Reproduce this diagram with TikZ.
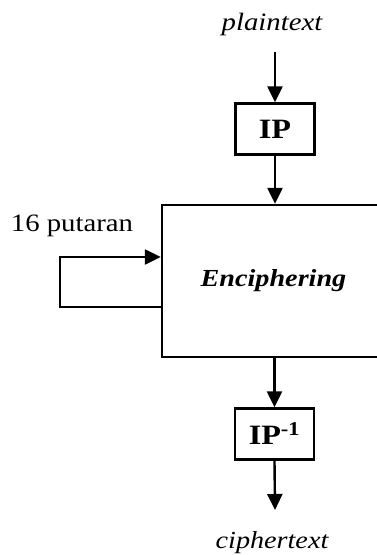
\documentclass[tikz,border=0pt]{standalone}
\usepackage{fontspec}
\setmainfont[FakeStretch=1.15]{Liberation Serif}
\usetikzlibrary{arrows.meta}
\begin{document}
\begin{tikzpicture}[x=1pt,y=-1pt,
  line width=2.4pt,
  flow/.style={-{Triangle[width=15pt,length=16pt]}},
  ipbox/.style={draw, rectangle, minimum width=79pt, minimum height=51pt, inner sep=0pt, font=\fontsize{28}{28}\selectfont\bfseries},
  lbl/.style={inner sep=0pt, font=\fontsize{25}{25}\selectfont\itshape}]
\useasboundingbox (0,0) rectangle (377,555);
\clip (0,0) rectangle (377,555);
% input and initial permutation
\node[lbl] (plain) at (272,24) {plaintext};
\coordinate (in) at (275,52);
\node[ipbox] (ip) at (275,129) {IP};
% main enciphering block (runs past the right edge)
\node[draw, rectangle, minimum width=223pt, minimum height=152pt, inner sep=0pt,
      font=\fontsize{24.5}{24.5}\selectfont\bfseries\itshape] (enc) at (273.5,281) {Enciphering};
% final permutation and output
\node[ipbox] (ipinv) at (274.5,434) {IP\textsuperscript{-1}};
\coordinate (out) at (275,510);
\node[lbl, font=\fontsize{24.5}{24.5}\selectfont\itshape] (cipher) at (272,543) {ciphertext};
% round loop
\node[inner sep=0pt, font=\fontsize{25}{25}\selectfont] (rounds) at (72,226) {16 putaran};
\coordinate (lb) at (60,307);
\coordinate (lt) at (60,257);
% connectors
\draw[flow] (in) -- (ip.north);
\draw[flow] (ip.south) -- (ip.south |- enc.north);
\draw[flow] (ipinv.north |- enc.south) -- (ipinv.north);
\draw[flow] (ipinv.south) -- (out);
\draw[flow] (enc.west |- lb) -- (lb) -- (lt) -- (enc.west |- lt);
\end{tikzpicture}
\end{document}
